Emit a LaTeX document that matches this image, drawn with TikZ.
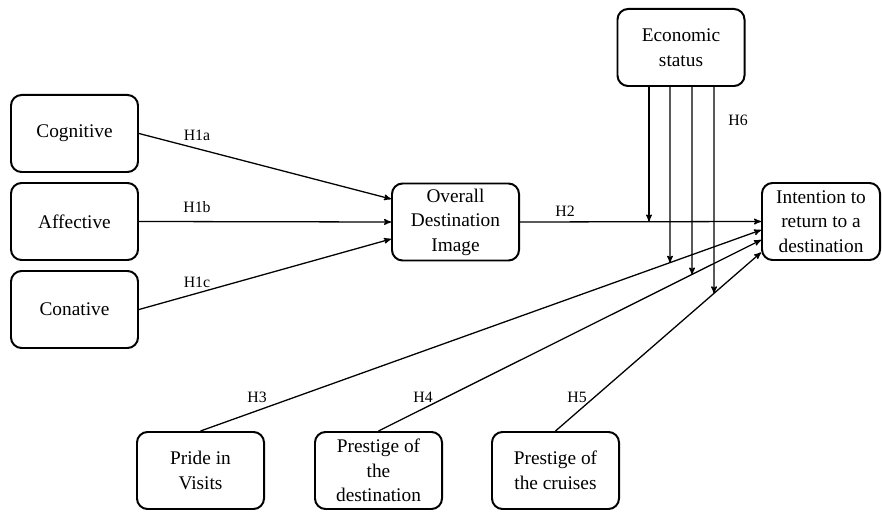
\documentclass[tikz,border=0pt]{standalone}
\usepackage{fontspec}
\setmainfont{Liberation Serif}
\newfontfamily\timesfont{Liberation Serif}
\usetikzlibrary{arrows}

\begin{document}
\begin{tikzpicture}[x=0.03cm,y=-0.03cm,>=stealth']
\tikzset{
    factor/.style={%
        draw=black, line width=1.7pt,
        rectangle,
        rounded corners=9pt,
        minimum height=2.31cm,
        minimum width=3.81cm,
        align=center,
        font=\timesfont\fontsize{16.5}{21}\selectfont
        },
    hyp/.style={%
        font=\timesfont\fontsize{13.5}{16}\selectfont
        },
    link/.style={->, line width=1.1pt},
}
\useasboundingbox (0,0) rectangle (882,512);
%%%CONSTRUCTS
\node[factor] (cog) at (74.5,133.5) {Cognitive};
\node[factor] (aff) at (74.5,221.5) {Affective};
\node[factor] (con) at (74.5,309.5) {Conative};
\node[factor] (odi) at (455.5,222) {Overall\\Destination\\Image};
\node[factor] (eco) at (681,47.5) {Economic\\status};
\node[factor, minimum width=3.54cm] (itr) at (821,221.5) {Intention to\\return to a\\destination};
\node[factor] (pri) at (200.5,470.5) {Pride in\\Visits};
\node[factor] (pde) at (378.5,470.5) {Prestige of\\the\\destination};
\node[factor] (pcr) at (555.5,470.5) {Prestige of\\the cruises};
%%%END POINTS
\coordinate (o1) at ([yshift=0.69cm]odi.west);
\coordinate (o3) at ([yshift=-0.51cm]odi.west);
\coordinate (i3) at ([yshift=-0.255cm]itr.west);
\coordinate (i4) at ([yshift=-0.555cm]itr.west);
\coordinate (i5) at ([yshift=-0.93cm]itr.west);
\coordinate (e1) at ([xshift=-0.96cm]eco.south);
\coordinate (e2) at ([xshift=-0.33cm]eco.south);
\coordinate (e3) at ([xshift=0.33cm]eco.south);
\coordinate (e4) at ([xshift=0.99cm]eco.south);
\coordinate (e2b) at (e2 |- pri.north);
\coordinate (e3b) at (e3 |- pri.north);
\coordinate (e4b) at (e4 |- pri.north);
%%%HYPOTHESES
\draw[link] (cog.east) -- (o1);
\draw[link] (aff.east) -- (odi.west);
\draw[link] (con.east) -- (o3);
\draw[link] (odi.east) -- (itr.west);
\draw[link] (pri.north) -- (i3);
\draw[link] (pde.north) -- (i4);
\draw[link] (pcr.north) -- (i5);
%%%MODERATION
\draw[link] (e1) -- (e1 |- itr.west);
\draw[link] (e2) -- (intersection of e2--e2b and pri.north--i3);
\draw[link] (e3) -- (intersection of e3--e3b and pde.north--i4);
\draw[link] (e4) -- (intersection of e4--e4b and pcr.north--i5);
%%%LABELS
\node[hyp] (h1a) at (197,135) {H1a};
\node[hyp] (h1b) at (197,207) {H1b};
\node[hyp] (h1c) at (197,282) {H1c};
\node[hyp] (h2) at (565,211) {H2};
\node[hyp] (h3) at (257,397) {H3};
\node[hyp] (h4) at (423,397) {H4};
\node[hyp] (h5) at (577,397) {H5};
\node[hyp] (h6) at (738,120) {H6};
\end{tikzpicture}
\end{document}
